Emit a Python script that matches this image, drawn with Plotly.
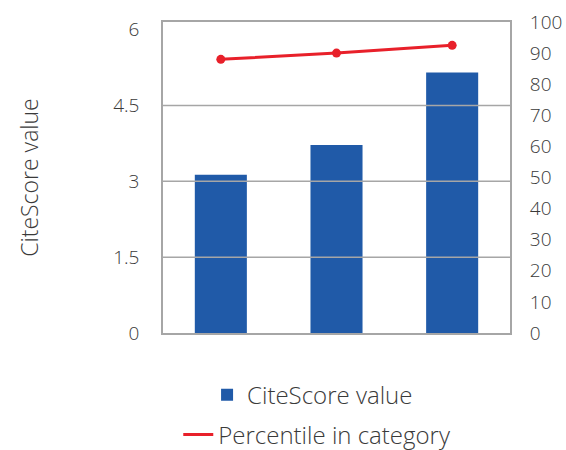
import plotly.graph_objects as go

categories = ["2016", "2017", "2018"]
citescore = [3.13, 3.72, 5.15]
percentile = [88, 90, 92.5]
left_ticks = [0, 1.5, 3, 4.5, 6]
left_tick_text = ["0", "1.5", "3", "4.5", "6"]
right_ticks = [0, 10, 20, 30, 40, 50, 60, 70, 80, 90, 100]

FONT = "Open Sans"
TXT = "#3a3a3a"
GRID = "#a6a6a6"
BLUE = "#205aa8"
RED = "#e8202a"

fig = go.Figure()
fig.add_trace(go.Bar(x=categories, y=citescore, name="CiteScore value",
                     marker=dict(color=BLUE, line=dict(width=0)),
                     width=0.45, legend="legend"))
fig.add_trace(go.Scatter(x=categories, y=percentile, yaxis="y2", mode="lines",
                         name="Percentile in category",
                         line=dict(color=RED, width=3), legend="legend2"))
fig.add_trace(go.Scatter(x=categories, y=percentile, yaxis="y2", mode="markers",
                         marker=dict(color=RED, size=9), showlegend=False))

shapes = [dict(type="line", xref="paper", x0=0, x1=1, yref="y", y0=v, y1=v,
               line=dict(color=GRID, width=1.5), layer="above")
          for v in left_ticks[1:-1]]

fig.update_layout(
    width=566, height=450,
    margin=dict(l=163, r=56, t=22, b=117, autoexpand=False),
    paper_bgcolor="white", plot_bgcolor="white",
    font=dict(family=FONT, color=TXT, size=19, weight=300),
    shapes=shapes,
    xaxis=dict(showticklabels=False, ticks="", showgrid=False, automargin=False,
               showline=True, mirror=True, linecolor=GRID, linewidth=1.5,
               zeroline=False),
    yaxis=dict(range=[0, 6.15], tickvals=left_ticks, ticktext=left_tick_text,
               showgrid=False, zeroline=False, automargin=False,
               showline=True, mirror=True, linecolor=GRID, linewidth=1.5,
               ticks="outside", ticklen=18, tickcolor="rgba(0,0,0,0)",
               tickfont=dict(size=19, color=TXT, weight=300),
               title=dict(text="CiteScore value",
                          font=dict(size=23, color=TXT, weight=300),
                          standoff=68)),
    yaxis2=dict(range=[0, 100], tickvals=right_ticks, overlaying="y",
                side="right", showgrid=False, zeroline=False, showline=False,
                automargin=False,
                ticks="outside", ticklen=15, tickcolor="rgba(0,0,0,0)",
                tickfont=dict(size=19, color=TXT, weight=300)),
    legend=dict(x=0.127, y=-0.2, xanchor="left", yanchor="middle",
                font=dict(size=24, color=TXT, weight=300), bgcolor="rgba(0,0,0,0)"),
    legend2=dict(x=0.044, y=-0.328, xanchor="left", yanchor="middle",
                 font=dict(size=24, color=TXT, weight=300), bgcolor="rgba(0,0,0,0)"),
)

fig.write_html("out.html", config={"displayModeBar": False},
               post_script="document.body.style.margin='0px';")
